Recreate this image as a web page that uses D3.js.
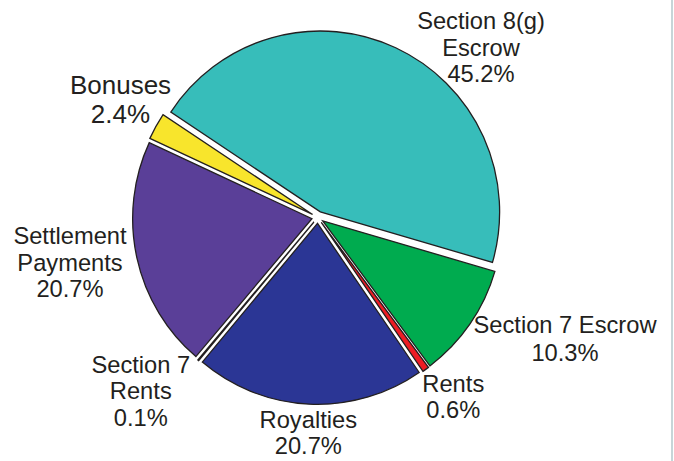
<!DOCTYPE html>
<html>
<head>
<meta charset="utf-8">
<script src="https://cdn.jsdelivr.net/npm/d3@7"></script>
<style>
  html, body { margin: 0; padding: 0; background: #ffffff; }
  svg { display: block; }
</style>
</head>
<body>
<svg id="chart" width="674" height="461"></svg>
<script>
// ---- data ----
const categories = ["Section 8(g) Escrow", "Section 7 Escrow", "Rents", "Royalties", "Section 7 Rents", "Settlement Payments", "Bonuses"];
const values = [45.2, 10.3, 0.6, 20.7, 0.1, 20.7, 2.4];
const labelLines = [
  ["Section 8(g)", "Escrow", "45.2%"],
  ["Section 7 Escrow", "10.3%"],
  ["Rents", "0.6%"],
  ["Royalties", "20.7%"],
  ["Section 7", "Rents", "0.1%"],
  ["Settlement", "Payments", "20.7%"],
  ["Bonuses", "2.4%"]
];
const colors = ["#37bdba", "#00ab4f", "#ed1c24", "#2b3695", "#e8e8e8", "#5a3f98", "#f8e52c"];

// ---- layout (positions / styles) ----
const cx = 317.8, cy = 217.4, radius = 179.3, yScale = 1.009, explode = 6;
const labelLayout = [
  {x: 481, y: 29.3, size: 23.7, lh: 26.2},
  {x: 565, y: 333.3, size: 23.7, lh: 27.2},
  {x: 453.3, y: 391.7, size: 23.7, lh: 26.6},
  {x: 308.3, y: 428.3, size: 23.7, lh: 25.5},
  {x: 140.8, y: 372.7, size: 23.7, lh: 26.7},
  {x: 70, y: 244, size: 23.7, lh: 26.6},
  {x: 120.5, y: 94, size: 26, lh: 29.3}
];

const svg = d3.select("#chart");

const pie = d3.pie().sort(null).value(d => d)
  .startAngle(-56.5 * Math.PI / 180)
  .endAngle((360 - 56.5) * Math.PI / 180);
const arcs = pie(values);
const arc = d3.arc().innerRadius(0).outerRadius(radius);

const g = svg.append("g")
  .attr("transform", `translate(${cx},${cy}) scale(1,${yScale})`);

g.selectAll("path.slice")
  .data(arcs)
  .join("path")
  .attr("class", "slice")
  .attr("d", arc)
  .attr("transform", d => {
    const a = (d.startAngle + d.endAngle) / 2;
    return `translate(${explode * Math.sin(a)},${-explode * Math.cos(a)})`;
  })
  .attr("fill", (d, i) => colors[i])
  .attr("stroke", "#231f20")
  .attr("stroke-width", 1.3)
  .attr("stroke-linejoin", "miter");

const labels = svg.append("g")
  .attr("font-family", "'Liberation Sans', Arial, Helvetica, sans-serif")
  .attr("fill", "#231f20")
  .attr("text-anchor", "middle");

labelLines.forEach((lines, i) => {
  const L = labelLayout[i];
  const t = labels.append("text")
    .attr("font-size", L.size + "px")
    .attr("x", L.x)
    .attr("y", L.y);
  lines.forEach((line, j) => {
    t.append("tspan")
      .attr("x", L.x)
      .attr("y", L.y + j * L.lh)
      .text(line);
  });
});

// right edge frame line
svg.append("line")
  .attr("x1", 672).attr("x2", 672)
  .attr("y1", 0).attr("y2", 461)
  .attr("stroke", "#b5c7cb")
  .attr("stroke-width", 1.5);
</script>
</body>
</html>
